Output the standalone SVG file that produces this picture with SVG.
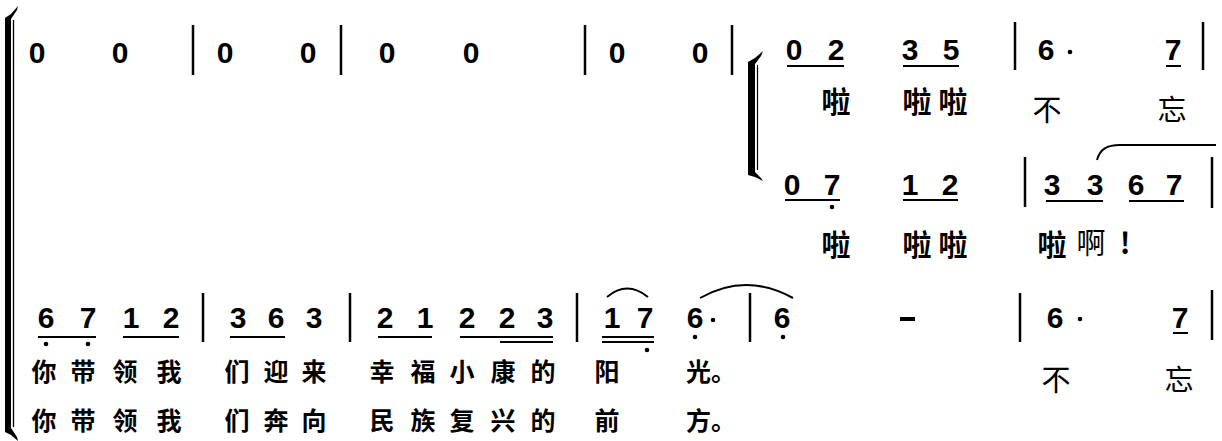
<svg xmlns="http://www.w3.org/2000/svg" width="1222" height="441" viewBox="0 0 1222 441">
<style>
.n{font-family:"Liberation Sans",Arial,sans-serif;font-weight:bold;font-size:30px;text-anchor:middle;fill:#000}
.ly{font-family:"Noto Sans CJK SC",sans-serif;font-size:29px;text-anchor:middle;fill:#000}
.lb{font-weight:bold}
.l2{font-family:"Noto Sans CJK SC",sans-serif;font-size:25px;font-weight:bold;text-anchor:middle;fill:#000}
.bar{stroke:#000;stroke-width:2.5}
.ul{stroke:#000;stroke-width:2}
.sl{stroke:#000;stroke-width:2;fill:none}
</style>
<rect width="1222" height="441" fill="#fff"/>

<g id="brackets">
  <path d="M5,18 L11,14 L18,6 L17,10 L11,19 L11,428 L17,437 L18,441 L11,435 L5,432 Z" fill="#000"/>
  <line x1="13.5" y1="20" x2="13.5" y2="427" stroke="#000" stroke-width="1.3"/>
  <path d="M748,62 L755,58 L763,51 L761,56 L755,64 L755,172 L761,178 L763,181 L755,177 L748,175 Z" fill="#000"/>
  <line x1="757.5" y1="65" x2="757.5" y2="170" stroke="#000" stroke-width="1.2"/>
</g>

<g id="barlines">
  <line class="bar" x1="193" y1="25" x2="193" y2="75"/>
  <line class="bar" x1="341" y1="25" x2="341" y2="75"/>
  <line class="bar" x1="585" y1="25" x2="585" y2="75"/>
  <line class="bar" x1="732" y1="25" x2="732" y2="75"/>
  <line class="bar" x1="1015" y1="22" x2="1015" y2="70"/>
  <line class="bar" x1="1203" y1="22" x2="1203" y2="70"/>
  <line class="bar" x1="1025" y1="157" x2="1025" y2="207"/>
  <line class="bar" x1="1212" y1="157" x2="1212" y2="208"/>
  <line class="bar" x1="203" y1="293" x2="203" y2="342"/>
  <line class="bar" x1="350" y1="293" x2="350" y2="342"/>
  <line class="bar" x1="577" y1="293" x2="577" y2="342"/>
  <line class="bar" x1="750" y1="293" x2="750" y2="342"/>
  <line class="bar" x1="1020" y1="293" x2="1020" y2="342"/>
  <line class="bar" x1="1212" y1="290" x2="1212" y2="340"/>
</g>

<g id="row1">
  <text class="n" x="37" y="63">0</text>
  <text class="n" x="120" y="63">0</text>
  <text class="n" x="225" y="63">0</text>
  <text class="n" x="308" y="63">0</text>
  <text class="n" x="387" y="63">0</text>
  <text class="n" x="471" y="63">0</text>
  <text class="n" x="617" y="63">0</text>
  <text class="n" x="700" y="63">0</text>
</g>

<g id="voice-upper">
  <text class="n" x="794" y="60">0</text>
  <text class="n" x="836" y="60">2</text>
  <text class="n" x="910" y="60">3</text>
  <text class="n" x="951" y="60">5</text>
  <line class="ul" x1="787" y1="66" x2="844" y2="66"/>
  <line class="ul" x1="903" y1="66" x2="959" y2="66"/>
  <text class="n" x="1046" y="60">6</text>
  <circle cx="1070" cy="52" r="2.3"/>
  <text class="n" x="1173" y="60">7</text>
  <line class="ul" x1="1166" y1="66" x2="1181" y2="66"/>
  <text class="ly lb" x="836" y="113">啦</text>
  <text class="ly lb" x="917" y="113">啦</text>
  <text class="ly lb" x="953" y="113">啦</text>
  <text class="ly" x="1047" y="121">不</text>
  <text class="ly" x="1172" y="121">忘</text>
</g>

<g id="voice-lower">
  <text class="n" x="792" y="195">0</text>
  <text class="n" x="832" y="195">7</text>
  <line class="ul" x1="785" y1="200" x2="840" y2="200"/>
  <circle cx="832" cy="207" r="2.3"/>
  <text class="n" x="910" y="195">1</text>
  <text class="n" x="950" y="195">2</text>
  <line class="ul" x1="903" y1="200" x2="958" y2="200"/>
  <text class="n" x="1052" y="195">3</text>
  <text class="n" x="1095" y="195">3</text>
  <line class="ul" x1="1046" y1="201" x2="1103" y2="201"/>
  <text class="n" x="1136" y="195">6</text>
  <text class="n" x="1174" y="195">7</text>
  <line class="ul" x1="1129" y1="201" x2="1184" y2="201"/>
  <path class="sl" d="M1097,160 C1100,149 1107,145 1120,145 L1216,145"/>
  <text class="ly lb" x="836" y="256">啦</text>
  <text class="ly lb" x="917" y="256">啦</text>
  <text class="ly lb" x="953" y="256">啦</text>
  <text class="ly lb" x="1052" y="256">啦</text>
  <text class="ly" x="1091" y="254">啊</text>
  <text class="ly lb" x="1125" y="254">!</text>
</g>

<g id="row3">
  <text class="n" x="46" y="328">6</text>
  <text class="n" x="88" y="328">7</text>
  <line class="ul" x1="38" y1="337" x2="96" y2="337"/>
  <circle cx="46" cy="344" r="2.3"/>
  <circle cx="88" cy="344" r="2.3"/>
  <text class="n" x="131" y="328">1</text>
  <text class="n" x="171" y="328">2</text>
  <line class="ul" x1="123" y1="337" x2="179" y2="337"/>
  <text class="n" x="238" y="328">3</text>
  <text class="n" x="276" y="328">6</text>
  <line class="ul" x1="230" y1="337" x2="285" y2="337"/>
  <text class="n" x="314" y="328">3</text>
  <text class="n" x="385" y="328">2</text>
  <text class="n" x="425" y="328">1</text>
  <line class="ul" x1="378" y1="337" x2="432" y2="337"/>
  <text class="n" x="467" y="328">2</text>
  <text class="n" x="507" y="328">2</text>
  <text class="n" x="545" y="328">3</text>
  <line class="ul" x1="460" y1="337" x2="553" y2="337"/>
  <line class="ul" x1="500" y1="342" x2="553" y2="342"/>
  <text class="n" x="612" y="328">1</text>
  <text class="n" x="645" y="328">7</text>
  <line class="ul" x1="602" y1="337" x2="654" y2="337"/>
  <line class="ul" x1="602" y1="342" x2="654" y2="342"/>
  <circle cx="647" cy="350" r="2.3"/>
  <path class="sl" d="M607,297 Q627,280 648,297"/>
  <text class="n" x="695" y="328">6</text>
  <circle cx="695" cy="337" r="2.3"/>
  <circle cx="713" cy="320" r="2.3"/>
  <path class="sl" d="M700,298 Q746,272 793,298"/>
  <text class="n" x="782" y="328">6</text>
  <circle cx="783" cy="337" r="2.3"/>
  <rect x="900" y="317" width="15" height="4"/>
  <text class="n" x="1055" y="328">6</text>
  <circle cx="1080" cy="319" r="2.3"/>
  <text class="n" x="1180" y="328">7</text>
  <line class="ul" x1="1173" y1="333" x2="1188" y2="333"/>
</g>

<g id="lyrics-1">
  <text class="l2" x="44" y="381">你</text>
  <text class="l2" x="83" y="381">带</text>
  <text class="l2" x="125" y="381">领</text>
  <text class="l2" x="169" y="381">我</text>
  <text class="l2" x="237" y="381">们</text>
  <text class="l2" x="276" y="381">迎</text>
  <text class="l2" x="314" y="381">来</text>
  <text class="l2" x="382" y="381">幸</text>
  <text class="l2" x="423" y="381">福</text>
  <text class="l2" x="462" y="381">小</text>
  <text class="l2" x="503" y="381">康</text>
  <text class="l2" x="543" y="381">的</text>
  <text class="l2" x="607" y="381">阳</text>
  <text class="l2" x="686" y="381" style="text-anchor:start">光。</text>
  <text class="ly" x="1056" y="391">不</text>
  <text class="ly" x="1179" y="391">忘</text>
</g>

<g id="lyrics-2">
  <text class="l2" x="44" y="430">你</text>
  <text class="l2" x="83" y="430">带</text>
  <text class="l2" x="125" y="430">领</text>
  <text class="l2" x="169" y="430">我</text>
  <text class="l2" x="237" y="430">们</text>
  <text class="l2" x="276" y="430">奔</text>
  <text class="l2" x="314" y="430">向</text>
  <text class="l2" x="382" y="430">民</text>
  <text class="l2" x="423" y="430">族</text>
  <text class="l2" x="462" y="430">复</text>
  <text class="l2" x="503" y="430">兴</text>
  <text class="l2" x="543" y="430">的</text>
  <text class="l2" x="607" y="430">前</text>
  <text class="l2" x="686" y="430" style="text-anchor:start">方。</text>
</g>
</svg>
